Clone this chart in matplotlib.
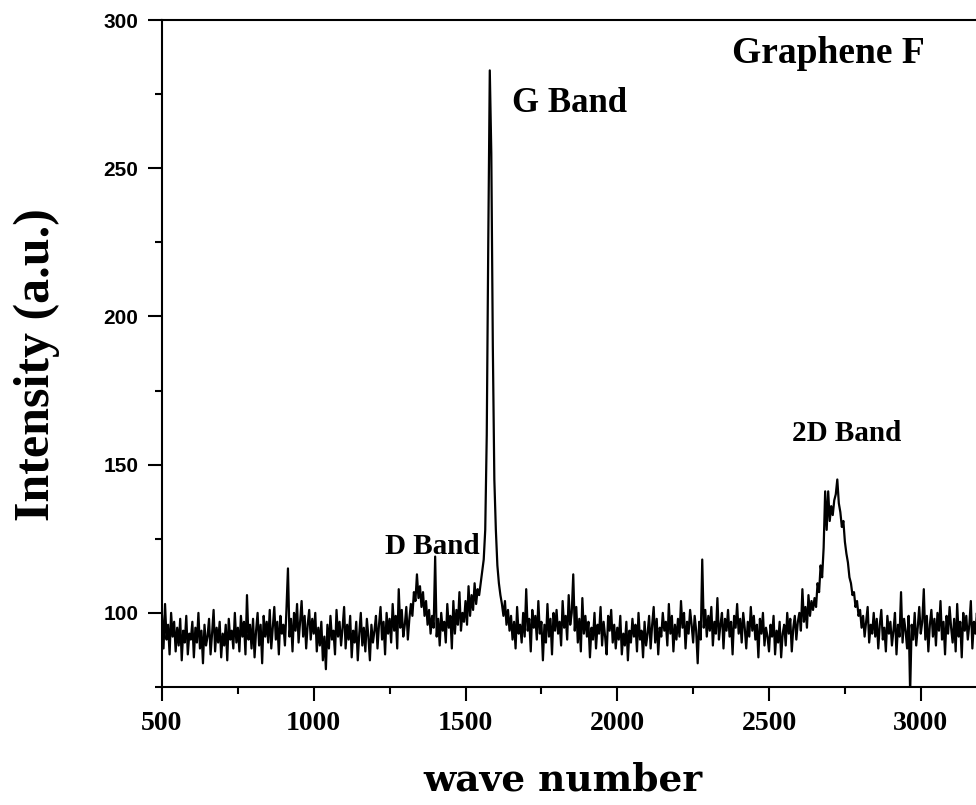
import matplotlib
matplotlib.use("Agg")
import matplotlib.pyplot as plt
from matplotlib.ticker import MultipleLocator
import numpy as np

# Raman spectrum, one value every 5 cm-1 from 500 to 3200
wave_start = 500
wave_step = 5
intensity = [
    99, 88, 103, 91, 96, 86, 100, 92, 97, 87,      # 500
    95, 89, 98, 84, 94, 90, 99, 86, 93, 91,        # 550
    97, 85, 95, 90, 100, 88, 94, 83, 96, 89,       # 600
    92, 98, 86, 93, 101, 87, 95, 90, 97, 85,       # 650
    93, 89, 96, 84, 98, 91, 94, 88, 100, 90,       # 700
    95, 87, 99, 92, 97, 86, 106, 91, 96, 88,       # 750
    98, 85, 94, 100, 89, 96, 83, 99, 92, 97,       # 800
    90, 101, 88, 95, 102, 91, 97, 86, 99, 93,      # 850
    96, 89, 101, 115, 92, 98, 87, 100, 94, 103,    # 900
    90, 97, 104, 92, 99, 88, 96, 101, 91, 98,      # 950
    93, 100, 87, 95, 89, 97, 84, 92, 81, 96,       # 1000
    88, 99, 91, 94, 86, 101, 92, 97, 89, 95,       # 1050
    102, 88, 96, 91, 99, 85, 94, 90, 97, 84,       # 1100
    93, 100, 89, 95, 87, 98, 92, 84, 96, 90,       # 1150
    94, 99, 88, 96, 102, 91, 97, 86, 100, 93,      # 1200
    98, 90, 103, 94, 99, 88, 108, 95, 101, 92,     # 1250
    96, 102, 91, 98, 103, 99, 107, 104, 113, 105,  # 1300
    109, 102, 107, 99, 104, 96, 101, 93, 99, 95,   # 1350
    119, 92, 98, 89, 100, 94, 97, 90, 103, 95,     # 1400
    99, 88, 104, 93, 101, 96, 107, 94, 100, 97,    # 1450
    104, 96, 109, 99, 106, 101, 110, 103, 108, 106,  # 1500
    110, 114, 118, 128, 160, 225, 283, 255, 190, 145,  # 1550
    128, 116, 110, 106, 103, 99, 104, 96, 101, 94,  # 1600
    99, 91, 97, 88, 102, 93, 96, 90, 100, 92,      # 1650
    108, 94, 98, 87, 101, 95, 99, 91, 104, 93,     # 1700
    97, 84, 96, 90, 103, 92, 98, 86, 100, 94,      # 1750
    101, 93, 97, 89, 104, 95, 99, 91, 106, 96,     # 1800
    100, 113, 94, 102, 90, 98, 87, 105, 93, 99,    # 1850
    92, 97, 85, 95, 91, 100, 88, 96, 93, 102,      # 1900
    89, 97, 92, 86, 99, 94, 101, 90, 96, 88,       # 1950
    95, 91, 99, 86, 93, 89, 97, 84, 94, 90,        # 2000
    98, 92, 96, 87, 100, 91, 94, 85, 97, 89,       # 2050
    93, 99, 88, 96, 102, 90, 98, 86, 95, 92,       # 2100
    100, 94, 97, 89, 103, 93, 99, 87, 96, 91,      # 2150
    98, 92, 104, 95, 100, 88, 97, 93, 101, 96,     # 2200
    90, 99, 94, 83, 97, 91, 118, 95, 101, 92,      # 2250
    99, 94, 102, 89, 97, 93, 105, 91, 96, 100,     # 2300
    88, 98, 94, 101, 92, 97, 86, 99, 95, 103,      # 2350
    93, 98, 90, 100, 95, 88, 97, 92, 102, 94,      # 2400
    99, 91, 96, 85, 98, 93, 100, 89, 95, 92,       # 2450
    87, 96, 92, 99, 86, 94, 90, 97, 85, 93,        # 2500
    96, 89, 100, 93, 98, 87, 95, 99, 91, 97,       # 2550
    100, 94, 108, 97, 102, 95, 106, 99, 104, 101,  # 2600
    105, 102, 110, 107, 116, 112, 122, 141, 128, 141,  # 2650
    131, 136, 133, 138, 140, 145, 137, 134, 129, 131,  # 2700
    124, 120, 117, 112, 110, 106, 107, 102, 104, 99,   # 2750
    101, 95, 99, 92, 97, 102, 90, 96, 93, 100,     # 2800
    92, 98, 88, 96, 101, 91, 95, 87, 99, 93,       # 2850
    97, 89, 94, 100, 86, 96, 92, 107, 90, 98,      # 2900
    94, 88, 99, 73, 96, 91, 100, 89, 95, 102,      # 2950
    93, 97, 108, 91, 99, 87, 96, 101, 92, 98,      # 3000
    89, 100, 94, 104, 91, 97, 86, 99, 93, 102,     # 3050
    95, 90, 98, 87, 103, 92, 97, 85, 100, 94,      # 3100
    99, 91, 96, 104, 88, 97, 93, 100, 90, 96,      # 3150
    94,                                            # 3200
]
wavenumber = wave_start + wave_step * np.arange(len(intensity))

x_ticks = [500, 1000, 1500, 2000, 2500, 3000]
y_ticks = [100, 150, 200, 250, 300]

# (label, x, y, fontsize)
band_labels = [
    ("G Band", 1844, 269, 25),
    ("D Band", 1390, 120, 21),
    ("2D Band", 2757, 158, 21),
    ("Graphene F", 2694, 285.5, 27),
]

serif = "Liberation Serif"

fig = plt.figure(figsize=(9.76, 8.05), dpi=100)
ax = fig.add_axes([162 / 976, 118 / 805, 814 / 976, 667 / 805])

ax.plot(wavenumber, intensity, color="black", lw=1.6)

ax.set_xlim(500, 3182)
ax.set_ylim(75, 300)
ax.set_xticks(x_ticks)
ax.set_yticks(y_ticks)
ax.xaxis.set_minor_locator(MultipleLocator(250))
ax.yaxis.set_minor_locator(MultipleLocator(25))

ax.spines["right"].set_visible(False)
for s in ["left", "top", "bottom"]:
    ax.spines[s].set_linewidth(1.5)

ax.tick_params(which="major", direction="out", length=10, width=1.5, pad=7)
ax.tick_params(which="minor", direction="out", length=5, width=1.5)
ax.tick_params(top=False, right=False, which="both")

for lab in ax.get_xticklabels():
    lab.set_fontfamily(serif)
    lab.set_fontweight("bold")
    lab.set_fontsize(20)
for lab in ax.get_yticklabels():
    lab.set_fontfamily("Liberation Sans")
    lab.set_fontweight("bold")
    lab.set_fontsize(15)

ax.set_xlabel("wave number", fontfamily="DejaVu Serif", fontweight="bold",
              fontsize=27, va="baseline", ha="center")
ax.xaxis.set_label_coords(0.4925, (687 - 790) / 667)
ax.set_ylabel("Intensity (a.u.)", fontfamily=serif, fontweight="bold",
              fontsize=36, va="center", ha="center")
ax.yaxis.set_label_coords((37 - 162) / 814, (687 - 365) / 667)

for text, x, y, size in band_labels:
    ax.text(x, y, text, fontfamily=serif, fontweight="bold", fontsize=size,
            ha="center", va="baseline")

fig.savefig("out.png", dpi=100)
